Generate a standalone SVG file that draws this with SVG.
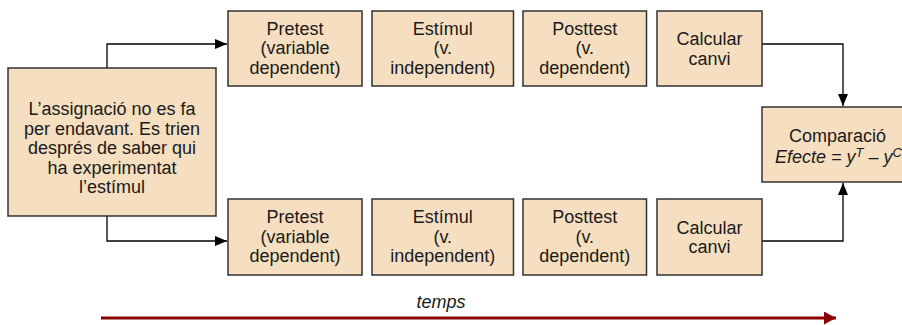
<svg xmlns="http://www.w3.org/2000/svg" width="902" height="325" viewBox="0 0 902 325">
  <style>
    .box { fill: #F5DFC0; stroke: #333333; stroke-width: 1.5; }
    .t { font-family: "Liberation Sans", Arial, sans-serif; font-size: 18px; fill: #1a1a1a; text-anchor: middle; }
    .it { font-style: italic; }
    .conn { fill: none; stroke: #000000; stroke-width: 1.3; }
    .time { fill: none; stroke: #8B0000; stroke-width: 3; }
  </style>
  <defs>
    <marker id="ah" markerWidth="12" markerHeight="10" refX="12" refY="5" orient="auto" markerUnits="userSpaceOnUse">
      <path d="M0,0 L12,5 L0,10 z" fill="#000000"/>
    </marker>
    <marker id="ahr" markerWidth="12" markerHeight="13" refX="12" refY="6.5" orient="auto" markerUnits="userSpaceOnUse">
      <path d="M0,0 L12,6.5 L0,13 z" fill="#8B0000"/>
    </marker>
  </defs>

  <g id="connectors">
    <path class="conn" d="M107,68 V44 H227" marker-end="url(#ah)"/>
    <path class="conn" d="M107,216 V241 H227" marker-end="url(#ah)"/>
    <path class="conn" d="M762,44 H843 V106" marker-end="url(#ah)"/>
    <path class="conn" d="M762,241 H843 V183" marker-end="url(#ah)"/>
    <path class="time" d="M101,318 H836" marker-end="url(#ahr)"/>
  </g>

  <g id="assignacio">
    <rect class="box" x="8" y="68" width="208" height="148"/>
    <text class="t" x="112" y="115">L’assignació no es fa</text>
    <text class="t" x="112" y="134.5">per endavant. Es trien</text>
    <text class="t" x="112" y="154">després de saber qui</text>
    <text class="t" x="112" y="173.5">ha experimentat</text>
    <text class="t" x="112" y="193">l’estímul</text>
  </g>

  <g id="pretest-top">
    <rect class="box" x="228" y="11" width="134" height="75"/>
    <text class="t" x="295" y="34.5">Pretest</text>
    <text class="t" x="295" y="54">(variable</text>
    <text class="t" x="295" y="73.5">dependent)</text>
  </g>
  <g id="estimul-top">
    <rect class="box" x="372" y="11" width="141.5" height="75"/>
    <text class="t" x="442.75" y="34.5">Estímul</text>
    <text class="t" x="442.75" y="54">(v.</text>
    <text class="t" x="442.75" y="73.5">independent)</text>
  </g>
  <g id="posttest-top">
    <rect class="box" x="523" y="11" width="123.5" height="75"/>
    <text class="t" x="584.75" y="34.5">Posttest</text>
    <text class="t" x="584.75" y="54">(v.</text>
    <text class="t" x="584.75" y="73.5">dependent)</text>
  </g>
  <g id="calcular-top">
    <rect class="box" x="657" y="11" width="105" height="75"/>
    <text class="t" x="709.5" y="45">Calcular</text>
    <text class="t" x="709.5" y="64.5">canvi</text>
  </g>

  <g id="pretest-bottom">
    <rect class="box" x="228" y="199" width="134" height="76"/>
    <text class="t" x="295" y="223">Pretest</text>
    <text class="t" x="295" y="242.5">(variable</text>
    <text class="t" x="295" y="262">dependent)</text>
  </g>
  <g id="estimul-bottom">
    <rect class="box" x="372" y="199" width="141.5" height="76"/>
    <text class="t" x="442.75" y="223">Estímul</text>
    <text class="t" x="442.75" y="242.5">(v.</text>
    <text class="t" x="442.75" y="262">independent)</text>
  </g>
  <g id="posttest-bottom">
    <rect class="box" x="523" y="199" width="123.5" height="76"/>
    <text class="t" x="584.75" y="223">Posttest</text>
    <text class="t" x="584.75" y="242.5">(v.</text>
    <text class="t" x="584.75" y="262">dependent)</text>
  </g>
  <g id="calcular-bottom">
    <rect class="box" x="657" y="199" width="105" height="76"/>
    <text class="t" x="709.5" y="233.5">Calcular</text>
    <text class="t" x="709.5" y="253">canvi</text>
  </g>

  <g id="comparacio">
    <rect class="box" x="762" y="107" width="151" height="75"/>
    <text class="t" x="837.5" y="142">Comparació</text>
    <text class="t it" x="838.5" y="163">Efecte = y<tspan font-size="13" dy="-6">T</tspan><tspan dy="6"> – y</tspan><tspan font-size="13" dy="-6">C</tspan></text>
  </g>

  <g id="temps">
    <text class="t it" x="441" y="308" font-size="16">temps</text>
  </g>
</svg>
